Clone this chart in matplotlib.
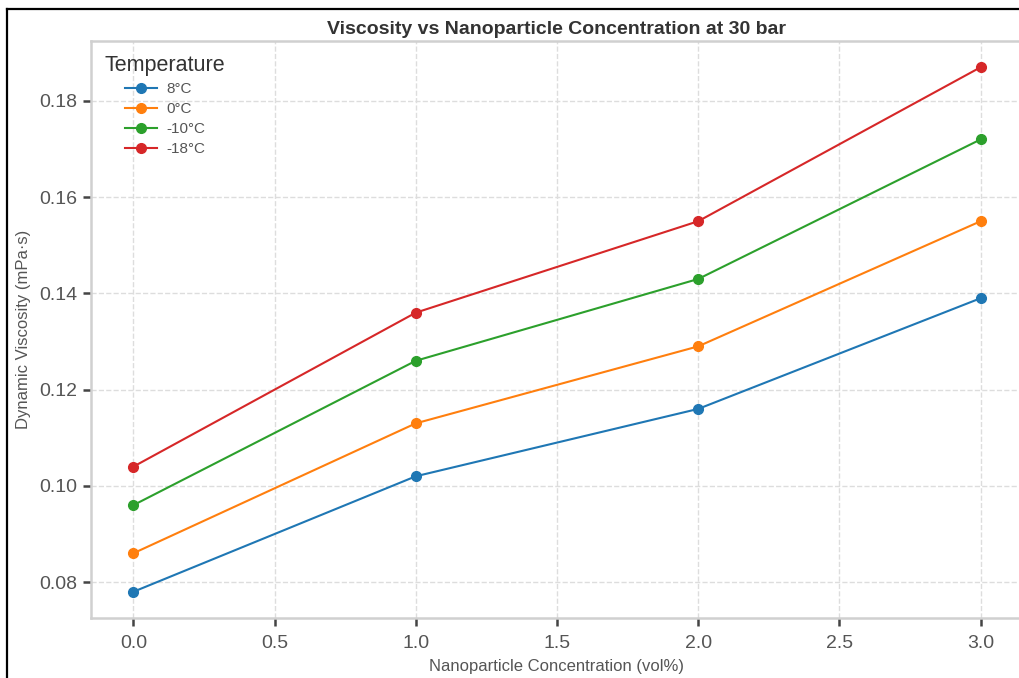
import numpy as np
import matplotlib
matplotlib.use("Agg")
import matplotlib.pyplot as plt
from matplotlib.lines import Line2D

plt.rcParams['font.family'] = ['Liberation Sans', 'DejaVu Sans']

# data
concentration = [0.0, 1.0, 2.0, 3.0]
temps = ['8°C', '0°C', '-10°C', '-18°C']
visc_8 = [0.078, 0.102, 0.116, 0.139]
visc_0 = [0.086, 0.113, 0.129, 0.155]
visc_m10 = [0.096, 0.126, 0.143, 0.172]
visc_m18 = [0.104, 0.136, 0.155, 0.187]
series = [visc_8, visc_0, visc_m10, visc_m18]
colors = ['#1f77b4', '#ff7f0e', '#2ca02c', '#d62728']

W, H = 1020, 678
fig = plt.figure(figsize=(W / 100, H / 100), dpi=100, facecolor='white')

# axes placed in pixels (reference is cropped on the right)
left, right, top, bottom = 91, 1023, 41, 618
ax = fig.add_axes([left / W, 1 - bottom / H, (right - left) / W, (bottom - top) / H])

for vals, lab, c in zip(series, temps, colors):
    ax.plot(concentration, vals, marker='o', markersize=7, linewidth=1.5,
            color=c, label=lab)

ax.set_xticks([0.0, 0.5, 1.0, 1.5, 2.0, 2.5, 3.0])
ax.set_yticks([0.08, 0.10, 0.12, 0.14, 0.16, 0.18])
ax.yaxis.set_major_formatter(matplotlib.ticker.FormatStrFormatter('%.2f'))

ax.grid(True, linestyle='--', color='#dddddd', linewidth=1.0)
for s in ax.spines.values():
    s.set_color('#d0d0d0')
    s.set_linewidth(1.8)
ax.tick_params(axis='both', colors='#444444', labelcolor='#555555', labelsize=14,
               length=6, width=1.8, direction='out', pad=4)
ax.tick_params(axis='x', pad=6.5)

ax.set_title('Viscosity vs Nanoparticle Concentration at 30 bar', fontsize=14,
             fontweight='bold', color='#333333', pad=5)
ax.set_xlabel('Nanoparticle Concentration (vol%)', fontsize=12, color='#555555', labelpad=4.5)
ax.set_ylabel('Dynamic Viscosity (mPa·s)', fontsize=12, color='#555555', labelpad=5.5)

leg = ax.legend(title='Temperature', loc='upper left', frameon=False, fontsize=11,
                title_fontsize=15.5, handlelength=2.1, handletextpad=0.6,
                labelspacing=0.4)
leg.get_title().set_color('#333333')
for t in leg.get_texts():
    t.set_color('#555555')

# screenshot frame (black lines on left and top)
fig.add_artist(Line2D([7 / W, 7 / W], [0, 1 - 9 / H], color='black', linewidth=1.6,
                      transform=fig.transFigure))
fig.add_artist(Line2D([7 / W, 1], [1 - 9 / H, 1 - 9 / H], color='black', linewidth=1.6,
                      transform=fig.transFigure))

fig.savefig('out.png', dpi=100)
